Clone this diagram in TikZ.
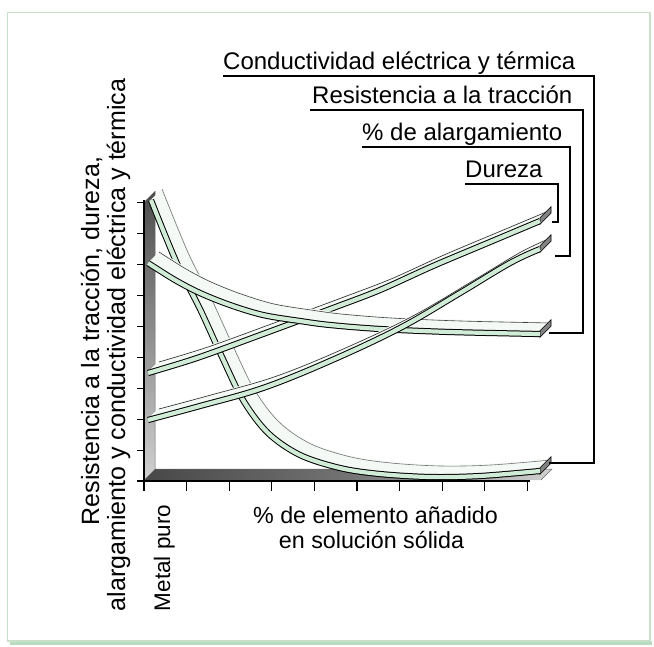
\documentclass[tikz,border=0pt]{standalone}
\usepackage{fontspec}
\setmainfont{Liberation Sans}
\usetikzlibrary{calc}
\definecolor{mint}{RGB}{208,235,214}
\definecolor{face}{RGB}{245,249,245}
\definecolor{framegreen}{RGB}{200,224,202}
\definecolor{bandgreen}{RGB}{186,220,190}
\definecolor{capgray}{RGB}{130,130,130}
\newcommand\myribbon[2]{%
  \foreach \k in {0,1,...,10}{\draw[face, line width=2.6pt, shift={(1.1*\k,-1.1*\k)}, #1];}
  \draw[#2, line width=0.6pt, shift={(11,-11)}, #1];
}
\newcommand\myfront[1]{%
  \draw[black, line width=6.2pt, #1];
  \draw[mint, line width=4.2pt, #1];
}
\begin{document}
\begin{tikzpicture}[x=1pt,y=-1pt,
  lbltop/.style={inner sep=0pt, anchor=base west, font=\fontsize{24}{28}\selectfont},
  lblside/.style={inner sep=0pt, anchor=base, rotate=90, font=\fontsize{25}{28}\selectfont},
  lblbot/.style={inner sep=0pt, anchor=base, font=\fontsize{23.3}{26}\selectfont},
  leader/.style={black, line width=1.3pt},
  tick/.style={black, line width=1.1pt},
  endcap/.style={fill=capgray, draw=black, line width=0.6pt},
  condp/.style={insert path={plot[smooth, tension=0.55] coordinates {(151,200) (165,235) (180,270) (200,309) (222,357) (243,400) (268,433) (300,455) (340,468) (380,474) (430,477) (480,476) (540,471)}}},
  resp/.style={insert path={plot[smooth, tension=0.55] coordinates {(148,263) (175,280) (200,293) (230,305) (263,315) (300,321) (330,325) (380,329) (450,332) (540,334)}}},
  durp/.style={insert path={plot[smooth, tension=0.55] coordinates {(148,373) (197,358) (263,334) (333,308) (380,290) (433,266) (490,242) (540,221)}}},
  alap/.style={insert path={plot[smooth, tension=0.6] coordinates {(148,420) (200,406) (263,388) (330,361) (400,328) (460,293) (510,263) (540,249)}}}
]
\useasboundingbox (0,0) rectangle (654,646);
% frame
\fill[bandgreen] (10,641) rectangle (652,645);
\draw[framegreen, line width=1.2pt] (7.5,12.5) rectangle (650,641);
% wall and floor
\shade[top color=black!70, bottom color=black!18] (144,202) -- (155,191) -- (155,469) -- (144,480) -- cycle;
\shade[left color=black!72, right color=black!18, middle color=black!55] (144,480) -- (155,469) -- (552,469) -- (541,480) -- cycle;
\draw[black!60, line width=0.5pt] (155,191) -- (155,469) -- (552,469) -- (541,480);
% axes
\draw[black, line width=1.2pt] (144,200) -- (144,481) -- (530,481);
\foreach \i in {0,...,9}{\draw[tick] (137,{481-30.9*\i}) -- (144,{481-30.9*\i});}
\foreach \i in {0,...,9}{\draw[tick] ({144+42.6*\i},481) -- ({144+42.6*\i},491);}
% conductividad ribbon
\myribbon{condp}{black!55}
\draw[endcap] (540,467.7) -- (551,456.7) -- (551,463.3) -- (540,474.3) -- cycle;
\myfront{condp}
% dureza ribbon
\myribbon{durp}{black!85}
\draw[endcap] (540,217.7) -- (551,206.7) -- (551,213.3) -- (540,224.3) -- cycle;
\myfront{durp}
% resistencia ribbon
\myribbon{resp}{black!75}
\draw[endcap] (540,330.7) -- (551,319.7) -- (551,326.3) -- (540,337.3) -- cycle;
\myfront{resp}
% alargamiento ribbon
\myribbon{alap}{black!85}
\draw[endcap] (540,245.7) -- (551,234.7) -- (551,241.3) -- (540,252.3) -- cycle;
\myfront{alap}
% end coordinates
\coordinate (condEnd) at (549,463);
\coordinate (resEnd) at (549,333);
\coordinate (alaEnd) at (555,256);
\coordinate (durEnd) at (552,222);
\coordinate (condTurn) at (594,76);
\coordinate (resTurn) at (583,110);
\coordinate (alaTurn) at (570,147);
\coordinate (durTurn) at (558,184);
% labels
\node[lbltop] (condLbl) at (223,69) {Conductividad eléctrica y térmica};
\node[lbltop] (resLbl) at (312,103) {Resistencia a la tracción};
\node[lbltop] (alaLbl) at (362,140) {\% de alargamiento};
\node[lbltop] (durLbl) at (465,177) {Dureza};
\draw[leader] ([yshift=-7pt]condLbl.base west) -- (condTurn) |- (condEnd);
\draw[leader] ([yshift=-7pt,xshift=-2pt]resLbl.base west) -- (resTurn) |- (resEnd);
\draw[leader] ([yshift=-7pt]alaLbl.base west) -- (alaTurn) |- (alaEnd);
\draw[leader] ([yshift=-7pt]durLbl.base west) -- (durTurn) |- (durEnd);
\node[lblside] (yLab1) at (99,341) {Resistencia a la tracción, dureza,};
\node[lblside] (yLab2) at (125,345) {alargamiento y conductividad eléctrica y térmica};
\node[lblside, font=\fontsize{22.5}{26}\selectfont] (metal) at (170,558) {Metal puro};
\node[lblbot] (xLab1) at (375.5,523) {\% de elemento añadido};
\node[lblbot] (xLab2) at (371.5,548) {en solución sólida};
\end{tikzpicture}
\end{document}
